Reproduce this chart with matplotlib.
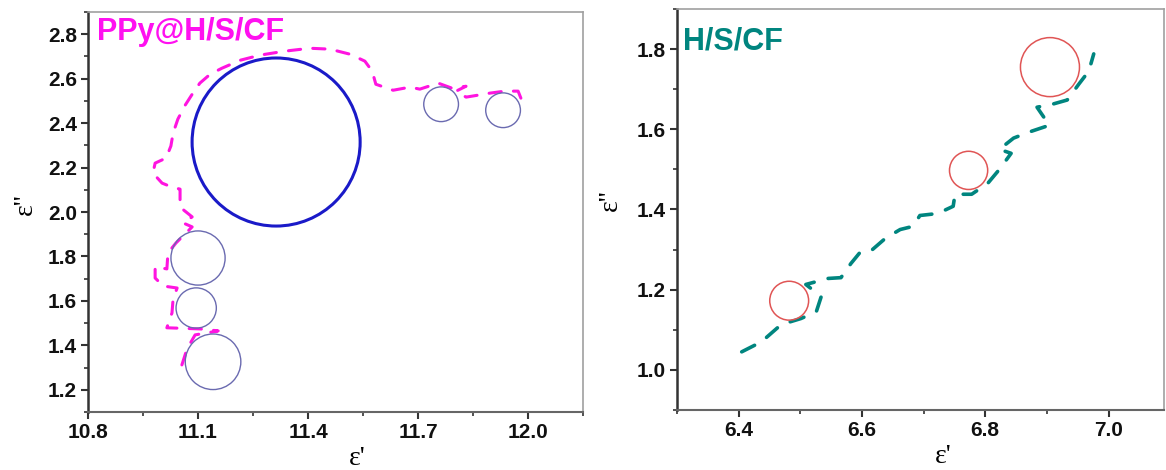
import matplotlib
matplotlib.use('Agg')
import matplotlib.pyplot as plt
from matplotlib.ticker import MultipleLocator

# PPy@H/S/CF Cole-Cole curve (eps', eps'')
ppy_x = [11.056, 11.070, 11.092, 11.155, 11.105, 11.015, 11.029, 11.032, 11.043, 11.005,
         10.983, 10.983, 11.015, 11.018, 11.040, 11.084, 11.059, 11.084, 11.051, 11.051,
         11.029, 11.002, 10.977, 10.983, 11.013, 11.026, 11.032, 11.045, 11.065, 11.086,
         11.105, 11.133, 11.165, 11.215, 11.269, 11.337, 11.405, 11.460, 11.515, 11.555,
         11.575, 11.585, 11.632, 11.678, 11.705, 11.755, 11.793, 11.831, 11.804, 11.831,
         11.864, 11.896, 11.937, 11.973, 11.986]
ppy_y = [1.312, 1.384, 1.447, 1.465, 1.474, 1.479, 1.546, 1.609, 1.658, 1.667,
         1.703, 1.753, 1.744, 1.816, 1.861, 1.933, 1.951, 1.978, 2.022, 2.103,
         2.112, 2.130, 2.175, 2.220, 2.243, 2.297, 2.355, 2.418, 2.481, 2.535,
         2.580, 2.620, 2.647, 2.683, 2.706, 2.724, 2.737, 2.733, 2.710, 2.679,
         2.634, 2.575, 2.548, 2.562, 2.553, 2.580, 2.557, 2.566, 2.544, 2.517,
         2.526, 2.535, 2.544, 2.544, 2.490]

# semicircles marked on PPy@H/S/CF
ppy_big_x = [11.313]
ppy_big_y = [2.315]
ppy_small_x = [11.100, 11.095, 11.141, 11.763, 11.932]
ppy_small_y = [1.793, 1.568, 1.326, 2.485, 2.458]
ppy_small_d = [39, 29, 40, 25, 25]

# H/S/CF Cole-Cole curve
hs_x = [6.405, 6.437, 6.469, 6.501, 6.526, 6.534, 6.509, 6.545, 6.566, 6.582,
        6.598, 6.617, 6.638, 6.662, 6.683, 6.694, 6.723, 6.748, 6.751, 6.778,
        6.804, 6.823, 6.842, 6.823, 6.846, 6.871, 6.904, 6.884, 6.910, 6.933,
        6.952, 6.968, 6.976]
hs_y = [1.045, 1.070, 1.113, 1.128, 1.145, 1.183, 1.213, 1.228, 1.230, 1.265,
        1.295, 1.300, 1.328, 1.350, 1.358, 1.385, 1.390, 1.408, 1.438, 1.438,
        1.465, 1.500, 1.540, 1.550, 1.578, 1.593, 1.610, 1.655, 1.663, 1.673,
        1.713, 1.745, 1.788]

hs_circ_x = [6.482, 6.773, 6.905]
hs_circ_y = [1.1725, 1.4975, 1.755]
hs_circ_d = [28, 27.5, 42.5]


def style_axes(ax):
    ax.spines['left'].set_color('#333333')
    ax.spines['left'].set_linewidth(1.8)
    ax.spines['bottom'].set_color('#666666')
    ax.spines['bottom'].set_linewidth(1.5)
    for s in ['top', 'right']:
        ax.spines[s].set_color('#a0a0a0')
        ax.spines[s].set_linewidth(1.2)
    ax.tick_params(which='major', direction='out', length=5, width=1.5,
                   color='#333333', labelsize=15, pad=3)
    ax.tick_params(which='minor', direction='out', length=3, width=1.2,
                   color='#333333')
    ax.tick_params(top=False, right=False, which='both')
    for lab in ax.get_xticklabels() + ax.get_yticklabels():
        lab.set_fontweight('bold')
        lab.set_family('Liberation Sans')
        lab.set_color('#111111')


fig = plt.figure(figsize=(11.66, 4.70), dpi=100)
ax1 = fig.add_axes([0.0755, 0.1234, 0.4245, 0.851])
ax2 = fig.add_axes([0.5806, 0.1277, 0.4177, 0.8532])

# left panel
ax1.plot(ppy_x, ppy_y, color='#ff14e0', lw=2.2, linestyle=(0, (4, 4)),
         dash_capstyle='round')
ax1.scatter(ppy_big_x, ppy_big_y, s=121 ** 2, facecolors='none',
            edgecolors='#1a1ac8', linewidths=2.2, zorder=3)
ax1.scatter(ppy_small_x, ppy_small_y, s=[d ** 2 for d in ppy_small_d],
            facecolors='none', edgecolors='#6a6ab0', linewidths=1.0, zorder=3)
ax1.set_xlim(10.8, 12.15)
ax1.set_ylim(1.1, 2.9)
ax1.xaxis.set_major_locator(MultipleLocator(0.3))
ax1.xaxis.set_minor_locator(MultipleLocator(0.15))
ax1.yaxis.set_major_locator(MultipleLocator(0.2))
ax1.yaxis.set_minor_locator(MultipleLocator(0.1))
ax1.text(0.018, 0.93, 'PPy@H/S/CF', transform=ax1.transAxes, color='#ff10f0',
         fontsize=22, fontweight='bold', family='Liberation Sans',
         ha='left', va='baseline')
ax1.set_xlabel("\u03b5'", family='Liberation Serif', fontsize=20)
ax1.set_ylabel("\u03b5''", family='Liberation Serif', fontsize=20)
ax1.xaxis.set_label_coords(0.543, -0.085)
ax1.yaxis.set_label_coords(-0.102, 0.52)
style_axes(ax1)

# right panel
ax2.plot(hs_x, hs_y, color='#00857f', lw=2.6, linestyle=(0, (4, 4)),
         dash_capstyle='round')
ax2.scatter(hs_circ_x, hs_circ_y, s=[d ** 2 for d in hs_circ_d],
            facecolors='none', edgecolors='#e05555', linewidths=1.1, zorder=3)
ax2.set_xlim(6.3, 7.09)
ax2.set_ylim(0.9, 1.9)
ax2.xaxis.set_major_locator(MultipleLocator(0.2))
ax2.xaxis.set_minor_locator(MultipleLocator(0.1))
ax2.yaxis.set_major_locator(MultipleLocator(0.2))
ax2.yaxis.set_minor_locator(MultipleLocator(0.1))
ax2.text(0.012, 0.898, 'H/S/CF', transform=ax2.transAxes, color='#00857f',
         fontsize=22, fontweight='bold', family='Liberation Sans',
         ha='left', va='baseline')
ax2.set_xlabel("\u03b5'", family='Liberation Serif', fontsize=20)
ax2.set_ylabel("\u03b5''", family='Liberation Serif', fontsize=20)
ax2.xaxis.set_label_coords(0.546, -0.085)
ax2.yaxis.set_label_coords(-0.112, 0.524)
style_axes(ax2)

fig.savefig('out.png', dpi=100)
